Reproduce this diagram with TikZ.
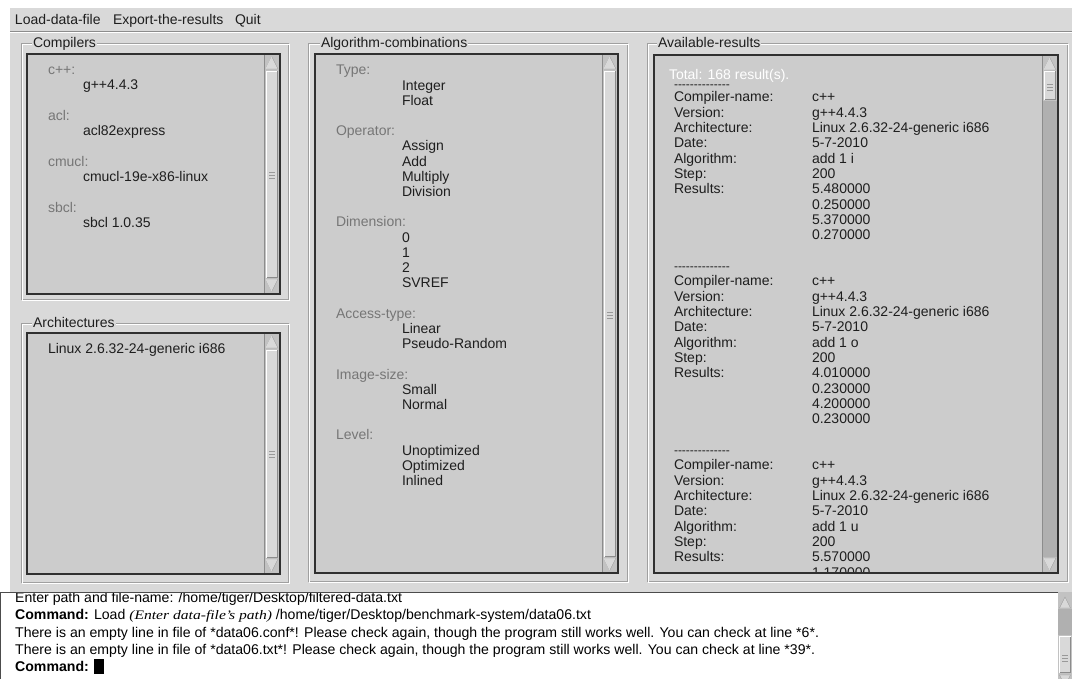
\documentclass[tikz,border=0pt]{standalone}
\usepackage{fontspec}
\setmainfont{Liberation Sans}
\newfontfamily\serifit{Liberation Serif}
\definecolor{winbg}{HTML}{D9D9D9}
\definecolor{listbg}{HTML}{CCCCCC}
\definecolor{lblgray}{HTML}{767676}
\definecolor{etchdark}{HTML}{A0A0A0}
\definecolor{sbbg}{HTML}{C2C2C2}
\definecolor{troughdark}{HTML}{B0B0B0}
\definecolor{txtdark}{HTML}{1E1E1E}
\definecolor{lbborder}{HTML}{303030}
\newcommand\dashrow{{\fontsize{12}{15}\selectfont\foreach \n in {1,...,14}{-\kern0pt}}}
% group box: x1 y1 x2 y2 labelx name label
\newcommand\gbox[7]{%
  \draw[etchdark] (#1+0.5,#2+0.5) rectangle (#3-0.5,#4-0.5);
  \draw[white] (#1+1.5,#2+1.5) rectangle (#3+0.5,#4+0.5);
  \node[txt, fill=winbg, inner xsep=1pt, inner ysep=2pt] (#6) at (#5,#2+5) {#7};}
% scrollbar: right top bottom thumbtop thumbbottom gripmid
\newcommand\sbar[6]{%
  \fill[sbbg] (#1-16,#2) rectangle (#1,#3);
  \draw[black!45] (#1-15.5,#2) -- (#1-15.5,#3);
  \filldraw[fill=winbg, draw=black!40] (#1-8,#2+3) -- (#1-14,#2+15) -- (#1-2,#2+15) -- cycle;
  \draw[white] (#1-8,#2+3) -- (#1-14,#2+15);
  \fill[winbg] (#1-14,#4) rectangle (#1-2,#5);
  \draw[white] (#1-13.5,#5) -- (#1-13.5,#4+0.5) -- (#1-2,#4+0.5);
  \draw[black!45] (#1-13.5,#5-0.5) -- (#1-2.5,#5-0.5) -- (#1-2.5,#4+0.5);
  \draw[black!40, line width=0.6pt] (#1-11,#6-3) -- (#1-5,#6-3) (#1-11,#6) -- (#1-5,#6) (#1-11,#6+3) -- (#1-5,#6+3);
  \filldraw[fill=winbg, draw=black!40] (#1-14,#3-15) -- (#1-2,#3-15) -- (#1-8,#3-3) -- cycle;
  \draw[white] (#1-14,#3-15) -- (#1-8,#3-3);}
\newcommand\lbox[4]{\fill[listbg] (#1,#2) rectangle (#3,#4);}
\newcommand\lboxborder[4]{\draw[lbborder, line width=1.2pt] (#1,#2) rectangle (#3,#4);}
% result block: k0 name algo r1 r2 r3 r4 dash-baseline
\newcommand\resblock[8]{%
  \node[txt] (#2d) at (674,#8) {\dashrow};
  \foreach \t [count=\i from 0] in {Compiler-name:,Version:,Architecture:,Date:,Algorithm:,Step:,Results:}
    \node[txt] (#2l\i) at (674,{102+15.33*(#1+\i)}) {\t};
  \foreach \t [count=\i from 0] in {c++,g++4.4.3,Linux 2.6.32-24-generic i686,5-7-2010,#3,200,#4,#5,#6,#7}
    \node[txt] (#2v\i) at (812,{102+15.33*(#1+\i)}) {\t};}
\begin{document}
\begin{tikzpicture}[x=1pt,y=-1pt,
  txt/.style={anchor=base west, inner sep=0pt, outer sep=0pt, font=\fontsize{14}{15}\selectfont, text=txtdark},
  lbl/.style={txt, text=lblgray},
  con/.style={anchor=base west, inner sep=0pt, font=\fontsize{14.1}{16}\selectfont, text=black}]
\useasboundingbox (0,0) rectangle (1072,679);
% window background
\fill[white] (0,0) rectangle (1072,679);
\fill[winbg] (10,8) rectangle (1072,592);
\draw[black!45] (10,31.5) -- (1072,31.5);
\draw[white] (10,32.5) -- (1072,32.5);
% menu
\node[txt] (mload) at (15,25) {Load-data-file};
\node[txt] (mexp) at (113,25) {Export-the-results};
\node[txt] (mquit) at (235,25) {Quit};

% ---------- Compilers ----------
\gbox{21}{43}{289}{300}{32}{gcomp}{Compilers}
\lbox{27}{54}{280}{294}
\node[lbl] (c1) at (48,74.5) {c++:};
\node[txt] (c1v) at (83,89.8) {g++4.4.3};
\node[lbl] (c2) at (48,120.5) {acl:};
\node[txt] (c2v) at (83,135.8) {acl82express};
\node[lbl] (c3) at (48,166.5) {cmucl:};
\node[txt] (c3v) at (83,181.8) {cmucl-19e-x86-linux};
\node[lbl] (c4) at (48,212.5) {sbcl:};
\node[txt] (c4v) at (83,227.8) {sbcl 1.0.35};
\sbar{280}{54}{294}{71}{278}{175}
\lboxborder{27}{54}{280}{294}

% ---------- Architectures ----------
\gbox{21}{323}{289}{583}{32}{garch}{Architectures}
\lbox{27}{333}{280}{574}
\node[txt] (a1) at (48,353) {Linux 2.6.32-24-generic i686};
\sbar{280}{333}{574}{350}{558}{454}
\lboxborder{27}{333}{280}{574}

% ---------- Algorithm-combinations ----------
\gbox{308}{43}{628}{582}{320}{galg}{Algorithm-combinations}
\lbox{315}{54}{618}{573}
\foreach \k/\t in {0/Type:,4/Operator:,10/Dimension:,16/Access-type:,20/Image-size:,24/Level:}
  \node[lbl] (al\k) at (336,{75+15.2*\k}) {\t};
\foreach \k/\t in {1/Integer,2/Float,5/Assign,6/Add,7/Multiply,8/Division,11/0,12/1,13/2,14/SVREF,17/Linear,18/Pseudo-Random,21/Small,22/Normal,25/Unoptimized,26/Optimized,27/Inlined}
  \node[txt] (av\k) at (402,{75+15.2*\k}) {\t};
\sbar{618}{54}{573}{71}{557}{315}
\lboxborder{315}{54}{618}{573}

% ---------- Available-results ----------
\gbox{647}{43}{1068}{582}{657}{gres}{Available-results}
\lbox{654}{55}{1058}{573}
\begin{scope}
\clip (654,55) rectangle (1042,573);
\node[txt, text=white] (total) at (669,79.5) {Total: 168 result(s).};
\resblock{0}{ba}{add 1 i}{5.480000}{0.250000}{5.370000}{0.270000}{88.5}
\resblock{12}{bb}{add 1 o}{4.010000}{0.230000}{4.200000}{0.230000}{270.6}
\resblock{24}{bc}{add 1 u}{5.570000}{1.170000}{}{}{454.6}
\end{scope}
\fill[troughdark] (1042,55) rectangle (1058,573);
\sbar{1058}{55}{573}{71}{100}{87}
\fill[troughdark] (1043,101) rectangle (1057,557);
\lboxborder{654}{55}{1058}{573}

% ---------- console ----------
\fill[white] (0,592) rectangle (1058,679);
\begin{scope}
\clip (1,593) rectangle (1058,679);
\node[con] (l1) at (15,602) {Enter path and file-name: /home/tiger/Desktop/filtered-data.txt};
\node[con] (l2) at (15,619.5) {\textbf{Command:} Load \scalebox{1.2}[1]{\serifit\itshape\fontsize{13}{15}\selectfont (Enter data-file’s path)} /home/tiger/Desktop/benchmark-system/data06.txt};
\node[con] (l3) at (15,637) {There is an empty line in file of *data06.conf*! Please check again, though the program still works well. You can check at line *6*.};
\node[con] (l4) at (15,654) {There is an empty line in file of *data06.txt*! Please check again, though the program still works well. You can check at line *39*.};
\node[con] (l5) at (15,671) {\textbf{Command:} \rule[-3pt]{10pt}{15pt}};
\end{scope}
\draw[black!70] (0,592.5) -- (1058,592.5);
\draw[black!70] (0.5,592) -- (0.5,679);
\fill[sbbg] (1058,592) rectangle (1072,679);
\filldraw[fill=winbg, draw=black!40] (1065,597) -- (1059.5,608) -- (1070.5,608) -- cycle;
\fill[troughdark] (1058,609) rectangle (1072,635);
\fill[winbg] (1059,636) rectangle (1071,673);
\draw[white] (1059.5,673) -- (1059.5,636.5) -- (1071,636.5);
\draw[black!45] (1059.5,672.5) -- (1070.5,672.5) -- (1070.5,636.5);
\draw[black!40, line width=0.6pt] (1062,655) -- (1068,655) (1062,658) -- (1068,658) (1062,661) -- (1068,661);
\filldraw[fill=winbg, draw=black!40] (1059.5,675) -- (1070.5,675) -- (1065,686) -- cycle;
\end{tikzpicture}
\end{document}
